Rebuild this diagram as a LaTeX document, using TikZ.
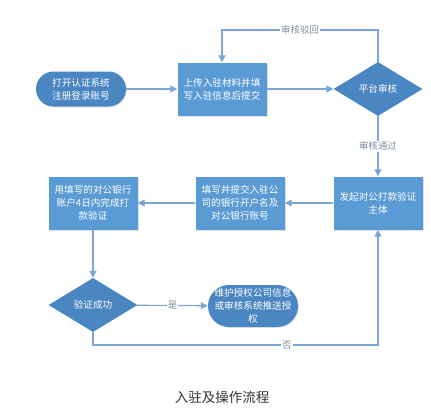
\documentclass[tikz,border=0pt]{standalone}
\usepackage{fontspec}
\setmainfont{Noto Sans CJK SC}
\usetikzlibrary{arrows.meta,shapes.geometric,shadows}
\definecolor{boxblue}{HTML}{5B9BD5}
\definecolor{darkblue}{HTML}{4A86C2}
\definecolor{lineblue}{HTML}{7BA7D7}
\definecolor{lblgray}{HTML}{7F8FA3}

\begin{document}
\begin{tikzpicture}[x=1pt, y=1pt, >={Triangle[length=7pt,width=7pt]},
  font=\fontsize{9.6}{13}\selectfont,
  flow/.style={->, line width=1.2pt, lineblue},
  lbl/.style={fill=white, text=lblgray, inner sep=1pt, font=\fontsize{9.4}{11}\selectfont},
  procbox/.style={rectangle, fill=boxblue, text=white, align=center, minimum width=89pt, minimum height=53pt, inner sep=2pt,
    drop shadow={opacity=0.25, shadow xshift=1pt, shadow yshift=-1pt}},
  termbox/.style={rectangle, fill=darkblue, text=white, align=center, minimum width=90pt, inner sep=1pt,
    drop shadow={opacity=0.2, shadow xshift=1pt, shadow yshift=-1pt}},
  decbox/.style={diamond, fill=darkblue, text=white, align=center, minimum width=89pt, minimum height=54pt, inner sep=0pt}]

\useasboundingbox (0,0) rectangle (431,-408);

% Top row: register, upload, review
\node[termbox, minimum height=35pt, rounded corners=17.5pt] (start) at (81,-89) {打开认证系统\\注册登录账号};
\node[procbox] (upload) at (222,-89) {上传入驻材料并填\\写入驻信息后提交};
\node[decbox] (review) at (378,-89) {平台审核};

% Middle row: payment verification
\node[procbox] (launch) at (378,-203) {发起对公打款验证\\主体};
\node[procbox] (fillin) at (240,-203) {填写并提交入驻公\\司的银行开户名及\\对公银行账号};
\node[procbox] (verify) at (93,-203) {用填写的对公银行\\账户4日内完成打\\款验证};

% Bottom row: result
\node[decbox] (success) at (93,-305) {验证成功};
\node[termbox, minimum height=42pt, rounded corners=21pt] (maintain) at (253,-306) {维护授权公司信息\\或审核系统推送授\\权};

% Connectors
\coordinate (rejtop) at (378,-30);
\coordinate (failbot) at (93,-345);

\draw[flow] (start) -- (upload);
\draw[flow] (upload) -- (review);
\draw[flow] (review.north) -- (rejtop) -| node[lbl, pos=0.25] {审核驳回} (upload.north);
\draw[flow] (review) -- node[lbl] {审核通过} (launch);
\draw[flow] (launch) -- (fillin);
\draw[flow] (fillin) -- (verify);
\draw[flow] (verify) -- (success);
\draw[flow] (success) -- node[lbl] {是} (maintain);
\draw[flow] (success.south) -- (failbot) -| node[lbl, pos=0.34] {否} (launch.south);

% Caption
\node[text=black!80, font=\fontsize{13.5}{16}\selectfont] (caption) at (222,-397) {入驻及操作流程};

\end{tikzpicture}
\end{document}
